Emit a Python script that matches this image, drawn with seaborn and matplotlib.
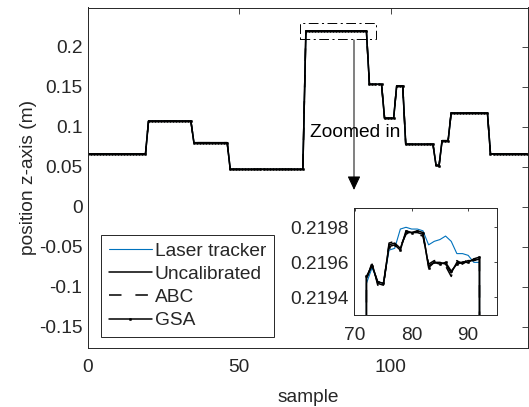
import matplotlib
matplotlib.use("Agg")
import matplotlib.pyplot as plt
import seaborn as sns
import pandas as pd
from matplotlib.patches import Rectangle
from matplotlib.ticker import FixedLocator, FormatStrFormatter

# ---------------- data ----------------
sample = list(range(0, 146))

laser_tracker = (
    [0.066] * 20 + [0.107] * 15 + [0.080] * 12 + [0.0467] * 25 +
    [0.21948, 0.21957, 0.21949, 0.21948, 0.21967, 0.21968, 0.21979,
     0.21980, 0.21979, 0.21979, 0.21978, 0.21970, 0.21972, 0.21973,
     0.21975, 0.21972, 0.21965, 0.21965, 0.21964, 0.21960, 0.21960] +
    [0.153] * 5 + [0.1105] * 4 + [0.151] * 3 + [0.078] * 10 +
    [0.052, 0.051] + [0.0825] * 3 + [0.117] * 13 + [0.066] * 13
)

# calibrated series: identical to the tracker at the full scale, differ in the zoom window (samples 72-92)
uncal_zoom = [0.21951, 0.21959, 0.21948, 0.21947, 0.21970, 0.21971, 0.21968,
              0.21977, 0.21977, 0.21977, 0.21976, 0.21958, 0.21960, 0.21960,
              0.21959, 0.21954, 0.21960, 0.21960, 0.21961, 0.21961, 0.21962]
abc_zoom = [0.21950, 0.21960, 0.21947, 0.21946, 0.21971, 0.21972, 0.21969,
            0.21976, 0.21978, 0.21976, 0.21975, 0.21959, 0.21961, 0.21961,
            0.21958, 0.21952, 0.21961, 0.21959, 0.21962, 0.21962, 0.21962]
gsa_zoom = [0.21952, 0.21958, 0.21949, 0.21948, 0.21969, 0.21970, 0.21967,
            0.21978, 0.21977, 0.21978, 0.21977, 0.21957, 0.21960, 0.21959,
            0.21960, 0.21955, 0.21959, 0.21960, 0.21960, 0.21962, 0.21963]

uncalibrated = laser_tracker[:72] + uncal_zoom + laser_tracker[93:]
abc = laser_tracker[:72] + abc_zoom + laser_tracker[93:]
gsa = laser_tracker[:72] + gsa_zoom + laser_tracker[93:]

series_names = ["Laser tracker", "Uncalibrated", "ABC", "GSA"]
zoom_box_x = [70, 95.1]
zoom_box_y = [0.2096, 0.2293]
arrow_x = 87.9
arrow_y = [0.2084, 0.021]

main_xticks = [0, 50, 100]
main_yticks = [-0.15, -0.1, -0.05, 0, 0.05, 0.1, 0.15, 0.2]
main_ylabels = ["-0.15", "-0.1", "-0.05", "0", "0.05", "0.1", "0.15", "0.2"]
inset_xticks = [70, 80, 90]
inset_yticks = [0.2194, 0.2196, 0.2198]

df = pd.DataFrame({"sample": sample, "Laser tracker": laser_tracker,
                   "Uncalibrated": uncalibrated, "ABC": abc, "GSA": gsa})

# ---------------- style ----------------
sns.set_theme(style="white")
plt.rcParams["font.family"] = ["Liberation Sans", "DejaVu Sans"]
plt.rcParams["axes.unicode_minus"] = False
plt.rcParams["lines.scale_dashes"] = False
FS = 13.8
TXT = "#262626"

fig = plt.figure(figsize=(5.29, 4.07), dpi=100)
ax = fig.add_axes([88 / 529, 1 - 348 / 407, 440 / 529, 340.5 / 407])
axin = fig.add_axes([354 / 529, 1 - 315 / 407, 143 / 529, 107 / 407])

styles = {
    "Laser tracker": dict(color="#0072BD", lw=0.8, linestyle="-"),
    "Uncalibrated": dict(color="black", lw=1.1, linestyle="-"),
    "ABC": dict(color="black", lw=1.1, linestyle=(0, (9, 10))),
    "GSA": dict(color="black", lw=1.1, linestyle="-", marker=".", markersize=3.5,
                markeredgecolor="black", markerfacecolor="black", markeredgewidth=0.3),
}

for a in (ax, axin):
    for name in series_names:
        sns.lineplot(data=df, x="sample", y=name, ax=a, label=name,
                     legend=False, sort=False, estimator=None, **styles[name])

for a in (ax, axin):
    a.set_facecolor("white")
    for s in a.spines.values():
        s.set_color(TXT)
        s.set_linewidth(0.7)
        s.set_visible(True)
    a.tick_params(direction="in", top=True, right=True, colors=TXT,
                  labelsize=FS, width=0.6)
    a.set_xlabel("")
    a.set_ylabel("")

ax.tick_params(length=4.5, pad=8)
ax.tick_params(axis="y", pad=4)
ax.set_xlim(0, 145.4)
ax.set_ylim(-0.1766, 0.249)
ax.set_xticks(main_xticks)
ax.set_yticks(main_yticks)
ax.set_yticklabels(main_ylabels)
ax.set_xlabel("sample", fontsize=FS, color=TXT, labelpad=9)
ax.set_ylabel("position z-axis (m)", fontsize=FS, color=TXT, labelpad=1.5)

# zoom window rectangle and arrow
ax.add_patch(Rectangle((zoom_box_x[0], zoom_box_y[0]),
                       zoom_box_x[1] - zoom_box_x[0], zoom_box_y[1] - zoom_box_y[0],
                       fill=False, edgecolor="black", lw=0.7,
                       linestyle=(0, (7, 2.5, 1.5, 2.5)), zorder=5))
ax.text(88.2, 0.0925, "Zoomed in", ha="center", va="center", fontsize=FS,
        color="black", zorder=4)
ax.annotate("", xy=(arrow_x, arrow_y[1]), xytext=(arrow_x, arrow_y[0]),
            arrowprops=dict(arrowstyle="-|>,head_length=0.85,head_width=0.4",
                            color="black", lw=0.7, mutation_scale=10,
                            shrinkA=0, shrinkB=0), zorder=6)

leg = ax.legend(loc="lower left", bbox_to_anchor=(13 / 440, 11 / 340.5),
                borderaxespad=0, fontsize=FS, frameon=True, fancybox=False,
                framealpha=1, edgecolor=TXT, handlelength=2.25,
                handletextpad=0.15, labelspacing=0.3, borderpad=0.4)
leg.get_frame().set_linewidth(0.7)

axin.tick_params(length=2.5, pad=9)
axin.tick_params(axis="y", pad=4)
axin.set_xlim(69.8, 95.1)
axin.set_ylim(0.21930, 0.21991)
axin.xaxis.set_major_locator(FixedLocator(inset_xticks))
axin.yaxis.set_major_locator(FixedLocator(inset_yticks))
axin.yaxis.set_major_formatter(FormatStrFormatter("%.4f"))

fig.savefig("out.png", dpi=100)
